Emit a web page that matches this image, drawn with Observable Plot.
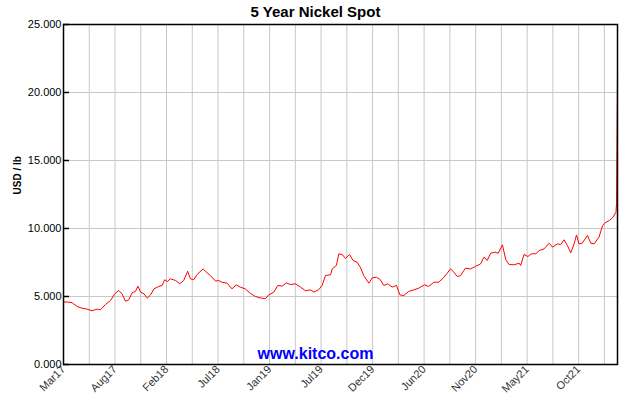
<!DOCTYPE html>
<html>
<head>
<meta charset="utf-8">
<script src="https://cdn.jsdelivr.net/npm/d3@7"></script>
<script src="https://cdn.jsdelivr.net/npm/@observablehq/plot@0.6"></script>
<style>
  html, body { margin: 0; padding: 0; background: #fff; }
  svg { display: block; }
</style>
</head>
<body>
<div id="chart"></div>
<script>
const title = "5 Year Nickel Spot";
const yLabel = "USD / lb";
const watermark = "www.kitco.com";
const domainStart = "2017-03-08";
const domainEnd = "2022-03-07";
const gridStepDays = 84.85;
const yTicks = [0, 5, 10, 15, 20, 25];

const dates = [
"2017-03-08","2017-03-20","2017-04-06","2017-04-22","2017-05-08","2017-05-25","2017-06-10","2017-06-27","2017-07-08","2017-07-24",
"2017-08-10","2017-08-24","2017-09-06","2017-09-17","2017-09-28","2017-10-09","2017-10-20","2017-10-31","2017-11-08","2017-11-17",
"2017-11-28","2017-12-09","2017-12-20","2017-12-31","2018-01-16","2018-01-27","2018-02-04","2018-02-13","2018-02-23","2018-03-12",
"2018-03-26","2018-04-08","2018-04-21","2018-04-30","2018-05-11","2018-05-22","2018-06-11","2018-06-24","2018-07-05","2018-07-22",
"2018-08-01","2018-08-12","2018-08-29","2018-09-14","2018-09-28","2018-10-11","2018-10-28","2018-11-13","2018-11-30","2018-12-16",
"2019-01-02","2019-01-13","2019-01-30","2019-02-12","2019-02-26","2019-03-12","2019-03-25","2019-04-11","2019-04-28","2019-05-14",
"2019-05-31","2019-06-11","2019-06-27","2019-07-08","2019-07-19","2019-08-05","2019-08-10","2019-08-24","2019-09-01","2019-09-13",
"2019-09-23","2019-10-06","2019-10-18","2019-10-31","2019-11-11","2019-11-22","2019-12-09","2019-12-20","2020-01-03","2020-01-16",
"2020-01-27","2020-02-09","2020-02-24","2020-03-09","2020-03-20","2020-04-02","2020-04-18","2020-05-05","2020-05-21","2020-06-09",
"2020-06-23","2020-07-10","2020-07-26","2020-08-12","2020-09-03","2020-09-14","2020-09-25","2020-10-06","2020-10-22","2020-11-08",
"2020-11-24","2020-12-11","2020-12-22","2021-01-02","2021-01-13","2021-01-27","2021-02-07","2021-02-21","2021-03-04","2021-03-15",
"2021-03-31","2021-04-17","2021-04-22","2021-05-03","2021-05-16","2021-05-27","2021-06-11","2021-06-22","2021-07-08","2021-07-25",
"2021-08-05","2021-08-21","2021-09-01","2021-09-12","2021-09-23","2021-10-04","2021-10-15","2021-10-23","2021-10-31","2021-11-11",
"2021-11-28","2021-12-09","2021-12-20","2022-01-05","2022-01-17","2022-01-28","2022-02-08","2022-02-19","2022-03-02","2022-03-04",
"2022-03-07"
];
const values = [
4.58,4.60,4.54,4.26,4.14,4.07,3.95,4.07,4.02,4.41,
4.71,5.20,5.44,5.20,4.65,4.76,5.27,5.37,5.76,5.32,
5.20,4.88,5.12,5.56,5.74,5.81,6.23,6.10,6.30,6.18,
5.93,6.18,6.86,6.30,6.23,6.62,7.03,6.74,6.54,6.13,
6.18,6.05,5.98,5.56,5.86,5.69,5.56,5.24,5.00,4.90,
4.83,5.12,5.32,5.81,5.76,6.00,5.88,5.93,5.69,5.42,
5.49,5.32,5.51,5.81,6.54,6.60,7.03,7.28,8.14,8.07,
7.80,8.09,7.65,7.52,7.15,6.54,5.98,6.37,6.42,6.23,
5.81,5.93,5.69,5.81,5.12,5.07,5.37,5.49,5.61,5.86,
5.74,6.05,6.05,6.40,7.03,6.79,6.47,6.54,7.08,7.03,
7.21,7.40,7.89,7.65,8.18,8.26,8.18,8.80,7.70,7.35,
7.33,7.45,7.28,8.09,7.94,8.14,8.14,8.38,8.50,8.92,
8.63,8.87,8.82,9.17,8.75,8.21,8.87,9.53,8.87,8.92,
9.49,8.92,8.87,9.36,10.22,10.46,10.59,10.79,11.20,11.90,
21.40
];

const parse = d3.utcParse("%Y-%m-%d");
const data = dates.map((d, i) => ({date: parse(d), value: values[i]}));
const x0 = parse(domainStart), x1 = parse(domainEnd);
const dayMs = 864e5;
const gridDates = d3.range(0, Math.floor((x1 - x0) / (gridStepDays * dayMs)) + 1)
  .map(k => new Date(+x0 + k * gridStepDays * dayMs));
const labelDates = gridDates.filter((d, k) => k % 2 === 0);
const fmt = d3.utcFormat("%b%y");
const yFmt = d3.format(".3f");

const font = "'Liberation Sans', Arial, sans-serif";

const chart = Plot.plot({
  width: 630,
  height: 400,
  marginLeft: 63,
  marginRight: 13,
  marginTop: 24,
  marginBottom: 36,
  style: {fontFamily: font, fontSize: "11px", color: "#000", background: "#fff"},
  x: {type: "utc", domain: [x0, x1], label: null},
  y: {domain: [0, 25], label: null},
  marks: [
    Plot.gridX(gridDates, {stroke: "#c8c8c8", strokeOpacity: 1, strokeWidth: 1}),
    Plot.gridY(yTicks, {stroke: "#c8c8c8", strokeOpacity: 1, strokeWidth: 1}),
    Plot.axisY(yTicks, {tickSize: 6, dx: 6, tickFormat: () => "", label: null, stroke: "#000", strokeWidth: 1.5}),
    Plot.axisY(yTicks, {tickSize: 0, tickPadding: 2, tickFormat: yFmt, label: null, fill: "#000", fontSize: 11}),
    Plot.axisX(labelDates, {tickSize: 0, tickPadding: 3, tickRotate: -45, tickFormat: fmt, label: null, fill: "#333", fontSize: 11}),
    Plot.lineY(data, {x: "date", y: "value", stroke: "#ff0000", strokeWidth: 1}),
    Plot.frame({stroke: "#000", strokeWidth: 1.5}),
    Plot.text([title], {frameAnchor: "top", dx: -25, dy: -12, fontSize: 15, fontWeight: "bold", fill: "#000", lineAnchor: "middle"}),
    Plot.text([watermark], {frameAnchor: "bottom", dx: -25, dy: -11, fontSize: 16, fontWeight: "bold", fill: "#0000ff", lineAnchor: "middle"}),
    Plot.text([yLabel], {frameAnchor: "left", dx: -46, rotate: -90, fontSize: 10, fontWeight: "bold", fill: "#000", lineAnchor: "middle"})
  ]
});
document.getElementById("chart").append(chart);
</script>
</body>
</html>
